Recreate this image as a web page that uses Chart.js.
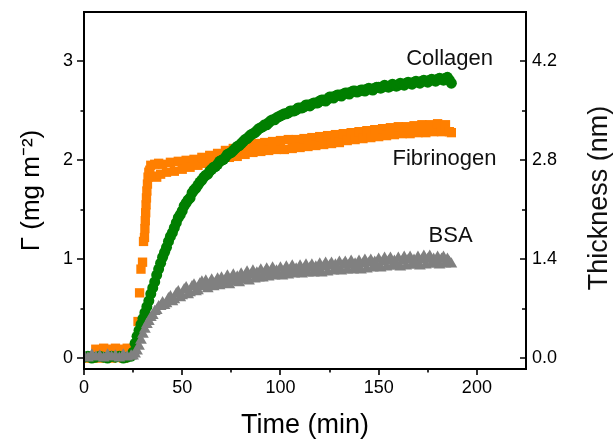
<!DOCTYPE html>
<html>
<head>
<meta charset="utf-8">
<script src="https://cdn.jsdelivr.net/npm/chart.js@4.4.1/dist/chart.umd.min.js"></script>
<style>
  html, body { margin: 0; padding: 0; background: #fff; }
  #wrap { width: 614px; height: 442px; }
</style>
</head>
<body>
<div id="wrap"><canvas id="chart"></canvas></div>
<script>
// time axis (min) for collagen and BSA
const timeMain = [
  0, 2, 4, 6, 8, 10, 12, 14, 16, 18, 20, 22, 24,
  25, 26, 27, 28, 29, 30, 31, 32, 33, 34, 35, 36, 37, 38, 39,
  40, 41, 42, 43, 44, 45, 46, 47, 48, 49, 50, 51, 52, 53, 54, 55, 56, 57, 58, 59,
  60, 61, 62, 63, 64, 65, 66, 67, 68, 69, 70, 71, 72, 73, 74, 75, 76, 77, 78, 79,
  80, 81, 82, 83, 84, 85, 86, 87, 88, 89, 90, 91, 92, 93, 94, 95, 96, 97, 98, 99,
  100, 101, 102, 103, 104, 105, 106, 107, 108, 109, 110, 111, 112, 113, 114, 115, 116, 117, 118, 119,
  120, 121, 122, 123, 124, 125, 126, 127, 128, 129, 130, 131, 132, 133, 134, 135, 136, 137, 138, 139,
  140, 141, 142, 143, 144, 145, 146, 147, 148, 149, 150, 151, 152, 153, 154, 155, 156, 157, 158, 159,
  160, 161, 162, 163, 164, 165, 166, 167, 168, 169, 170, 171, 172, 173, 174, 175, 176, 177, 178, 179,
  180, 181, 182, 183, 184, 185, 186, 187
];
const collagen = [
  0.01, 0.02, 0.00, 0.01, 0.02, 0.01, 0.00, 0.02, 0.01, 0.02, 0.00, 0.01, 0.02,
  0.06, 0.15, 0.22, 0.28, 0.34, 0.40, 0.46, 0.52, 0.58, 0.65, 0.71, 0.77, 0.84, 0.90, 0.96,
  1.02, 1.07, 1.12, 1.18, 1.23, 1.27, 1.32, 1.37, 1.42, 1.45, 1.49, 1.54, 1.57, 1.60, 1.62, 1.67, 1.70, 1.72, 1.75, 1.78,
  1.80, 1.83, 1.85, 1.86, 1.89, 1.91, 1.93, 1.94, 1.96, 1.99, 2.00, 2.01, 2.03, 2.06, 2.07, 2.08, 2.10, 2.12, 2.14, 2.15,
  2.17, 2.19, 2.21, 2.22, 2.24, 2.26, 2.27, 2.28, 2.30, 2.32, 2.33, 2.34, 2.36, 2.36, 2.38, 2.40, 2.41, 2.41, 2.43, 2.44,
  2.45, 2.46, 2.47, 2.47, 2.48, 2.50, 2.50, 2.50, 2.51, 2.53, 2.53, 2.53, 2.54, 2.56, 2.56, 2.55, 2.57, 2.58, 2.58, 2.58,
  2.60, 2.61, 2.61, 2.60, 2.62, 2.64, 2.64, 2.63, 2.65, 2.66, 2.66, 2.65, 2.67, 2.68, 2.68, 2.67, 2.69, 2.70, 2.70, 2.69,
  2.70, 2.71, 2.71, 2.70, 2.72, 2.73, 2.72, 2.71, 2.73, 2.74, 2.74, 2.73, 2.74, 2.76, 2.75, 2.74, 2.75, 2.77, 2.76, 2.75,
  2.76, 2.78, 2.77, 2.76, 2.78, 2.79, 2.78, 2.77, 2.79, 2.80, 2.79, 2.78, 2.80, 2.81, 2.80, 2.79, 2.81, 2.82, 2.81, 2.80,
  2.82, 2.83, 2.82, 2.81, 2.83, 2.84, 2.81, 2.78
];
const bsa = [
  0.02, 0.00, 0.03, 0.01, 0.02, 0.00, 0.03, 0.01, 0.02, 0.00, 0.03, 0.01, 0.02,
  0.02, 0.04, 0.07, 0.12, 0.18, 0.24, 0.29, 0.34, 0.37, 0.41, 0.43, 0.47, 0.48, 0.52, 0.52,
  0.56, 0.53, 0.55, 0.60, 0.62, 0.57, 0.59, 0.65, 0.67, 0.61, 0.63, 0.69, 0.71, 0.64, 0.66, 0.72, 0.74, 0.67, 0.68, 0.75,
  0.77, 0.72, 0.78, 0.70, 0.75, 0.79, 0.72, 0.76, 0.80, 0.73, 0.81, 0.75, 0.79, 0.83, 0.74, 0.80, 0.84, 0.77, 0.82, 0.76,
  0.85, 0.79, 0.83, 0.87, 0.78, 0.84, 0.88, 0.80, 0.86, 0.81, 0.89, 0.81, 0.86, 0.90, 0.82, 0.87, 0.91, 0.83, 0.88, 0.84,
  0.91, 0.83, 0.88, 0.92, 0.84, 0.89, 0.93, 0.85, 0.90, 0.86, 0.93, 0.85, 0.90, 0.94, 0.86, 0.91, 0.94, 0.86, 0.92, 0.87,
  0.95, 0.86, 0.92, 0.96, 0.87, 0.93, 0.96, 0.88, 0.94, 0.89, 0.97, 0.88, 0.94, 0.97, 0.89, 0.94, 0.98, 0.89, 0.95, 0.90,
  0.98, 0.89, 0.95, 0.99, 0.90, 0.96, 0.99, 0.91, 0.97, 0.92, 1.00, 0.91, 0.97, 1.01, 0.92, 0.98, 1.01, 0.93, 0.98, 0.93,
  1.01, 0.92, 0.98, 1.02, 0.93, 0.99, 1.02, 0.94, 0.99, 0.94, 1.02, 0.93, 0.99, 1.03, 0.94, 1.00, 1.03, 0.95, 1.00, 0.95,
  1.02, 0.94, 1.00, 1.02, 0.95, 1.00, 0.97, 0.95
];

// fibrinogen was sampled more finely during the jump
const timeFib = [
  0, 2, 4, 6, 8, 10, 12, 14, 16, 18, 20, 22, 24, 26,
  27.5, 28.3, 29.0, 29.8, 30.3, 30.8, 31.0, 31.2, 31.4, 31.6, 31.8, 32.0, 32.3, 32.6, 33.0, 33.5,
  34, 35, 36, 37, 38, 39, 40,
  42, 44, 46, 48, 50, 52, 54, 56, 58, 60, 62, 64, 66, 68, 70, 72, 74, 76, 78, 80,
  82, 84, 86, 88, 90, 92, 94, 96, 98, 100, 102, 104, 106, 108, 110, 112, 114, 116, 118, 120,
  122, 124, 126, 128, 130, 132, 134, 136, 138, 140, 142, 144, 146, 148, 150, 152, 154, 156, 158, 160,
  162, 164, 166, 168, 170, 172, 174, 176, 178, 180, 182, 184, 186, 187
];
const fibrinogen = [
  0.00, 0.01, 0.00, 0.09, 0.00, 0.10, 0.09, 0.00, 0.10, 0.09, 0.00, 0.10, 0.09, 0.10,
  0.37, 0.66, 0.90, 0.97, 1.18, 1.22, 1.31, 1.39, 1.47, 1.55, 1.62, 1.69, 1.76, 1.83, 1.88, 1.90,
  1.95, 1.84, 1.96, 1.83, 1.97, 1.86, 1.96,
  1.88, 1.98, 1.89, 1.99, 1.91, 2.00, 1.93, 2.01, 1.95, 2.03, 1.97, 2.05, 1.99, 2.07, 2.01, 2.10, 2.03, 2.12, 2.04, 2.13,
  2.06, 2.15, 2.08, 2.17, 2.09, 2.18, 2.10, 2.19, 2.11, 2.20, 2.11, 2.21, 2.12, 2.21, 2.13, 2.22, 2.14, 2.23, 2.15, 2.24,
  2.16, 2.25, 2.17, 2.26, 2.18, 2.27, 2.20, 2.28, 2.21, 2.29, 2.22, 2.30, 2.23, 2.31, 2.24, 2.32, 2.25, 2.33, 2.26, 2.34,
  2.27, 2.34, 2.27, 2.35, 2.28, 2.36, 2.28, 2.36, 2.29, 2.37, 2.29, 2.36, 2.29, 2.28
];

const xTicks = [0, 25, 50, 75, 100, 125, 150, 175, 200];
const yTicks = [0, 0.5, 1, 1.5, 2, 2.5, 3];
const thicknessTicks = [0, 0.7, 1.4, 2.1, 2.8, 3.5, 4.2];

const curveLabels = ['Collagen', 'Fibrinogen', 'BSA'];
const curveLabelTime = [186.1, 183.5, 186.6];
const curveLabelValue = [2.966, 1.953, 1.177];

const FONT = '"Liberation Sans", Arial, sans-serif';

function points(xs, ys) {
  return xs.map((x, i) => ({ x, y: ys[i] }));
}

const framePlugin = {
  id: 'frame',
  afterDatasetsDraw(chart) {
    const { ctx, chartArea: a, scales } = chart;
    ctx.save();
    ctx.strokeStyle = '#000';
    ctx.lineWidth = 1.6;

    ctx.beginPath();
    for (const v of xTicks) {
      const px = Math.round(scales.x.getPixelForValue(v));
      ctx.moveTo(px, a.bottom);
      ctx.lineTo(px, a.bottom + (v % 50 === 0 ? 6 : 3.5));
    }
    for (const v of yTicks) {
      const py = Math.round(scales.y.getPixelForValue(v));
      ctx.moveTo(a.left, py);
      ctx.lineTo(a.left - (Number.isInteger(v) ? 7 : 3.5), py);
    }
    thicknessTicks.forEach((v, i) => {
      const py = Math.round(scales.y2.getPixelForValue(v));
      ctx.moveTo(a.right, py);
      ctx.lineTo(a.right - (i % 2 === 0 ? 6 : 4), py);
    });
    ctx.stroke();

    ctx.lineWidth = 2;
    ctx.strokeRect(a.left, a.top, a.right - a.left, a.bottom - a.top);

    // curve labels
    ctx.fillStyle = '#111';
    ctx.font = '22px ' + FONT;
    ctx.textAlign = 'center';
    ctx.textBaseline = 'alphabetic';
    curveLabels.forEach((txt, i) => {
      ctx.fillText(txt, scales.x.getPixelForValue(curveLabelTime[i]), scales.y.getPixelForValue(curveLabelValue[i]));
    });

    // right axis title reads bottom to top
    ctx.font = '27px ' + FONT;
    ctx.textBaseline = 'middle';
    ctx.translate(600, 198);
    ctx.rotate(-Math.PI / 2);
    ctx.fillText('Thickness (nm)', 0, 0);
    ctx.restore();
  }
};

function fixVertical(width) {
  return s => { s.width = width; s.paddingTop = 0; s.paddingBottom = 0; };
}

Chart.defaults.font.family = FONT;
Chart.defaults.color = '#000';

new Chart(document.getElementById('chart'), {
  type: 'scatter',
  data: {
    datasets: [
      {
        label: 'Fibrinogen',
        data: points(timeFib, fibrinogen),
        pointStyle: 'rect',
        pointRadius: 6.6,
        backgroundColor: '#ff7f00',
        borderColor: '#ff7f00',
        borderWidth: 0,
        order: 3
      },
      {
        label: 'Collagen',
        data: points(timeMain, collagen),
        pointStyle: 'circle',
        pointRadius: 5.5,
        backgroundColor: '#007f00',
        borderColor: '#007f00',
        borderWidth: 0,
        order: 2
      },
      {
        label: 'BSA',
        data: points(timeMain, bsa),
        pointStyle: 'triangle',
        pointRadius: 6.8,
        backgroundColor: '#808080',
        borderColor: '#808080',
        borderWidth: 0,
        order: 1
      }
    ]
  },
  options: {
    responsive: true,
    maintainAspectRatio: false,
    animation: false,
    layout: { padding: { top: 12, left: 0, right: 0, bottom: 0 } },
    plugins: {
      legend: { display: false },
      tooltip: { enabled: false }
    },
    scales: {
      x: {
        type: 'linear',
        position: 'bottom',
        min: 0,
        max: 225,
        grid: { display: false, drawTicks: false },
        border: { display: false },
        afterBuildTicks: s => { s.ticks = xTicks.map(v => ({ value: v })); },
        afterFit: s => { s.height = 73; s.paddingLeft = 0; s.paddingRight = 0; },
        ticks: {
          autoSkip: false,
          maxRotation: 0,
          padding: 8,
          font: { size: 18 },
          callback: v => (v % 50 === 0 ? v : '')
        },
        title: {
          display: true,
          text: 'Time (min)',
          font: { size: 27 },
          padding: { top: 0, bottom: 0 }
        }
      },
      y: {
        type: 'linear',
        position: 'left',
        min: -0.11,
        max: 3.5,
        grid: { display: false, drawTicks: false },
        border: { display: false },
        afterBuildTicks: s => { s.ticks = yTicks.map(v => ({ value: v })); },
        afterFit: fixVertical(84),
        ticks: {
          autoSkip: false,
          padding: 11,
          font: { size: 18 },
          callback: v => (Number.isInteger(v) ? v : '')
        },
        title: {
          display: true,
          text: 'Γ (mg m⁻²)',
          font: { size: 26 },
          padding: { top: 16, bottom: 0 }
        }
      },
      y2: {
        type: 'linear',
        position: 'right',
        display: true,
        min: -0.154,
        max: 4.9,
        grid: { display: false, drawTicks: false },
        border: { display: false },
        afterBuildTicks: s => { s.ticks = thicknessTicks.map(v => ({ value: v })); },
        afterFit: fixVertical(88),
        ticks: {
          autoSkip: false,
          padding: 6,
          font: { size: 18 },
          callback: (v, i) => (i % 2 === 0 ? v.toFixed(1) : '')
        }
      }
    }
  },
  plugins: [framePlugin]
});
</script>
</body>
</html>
